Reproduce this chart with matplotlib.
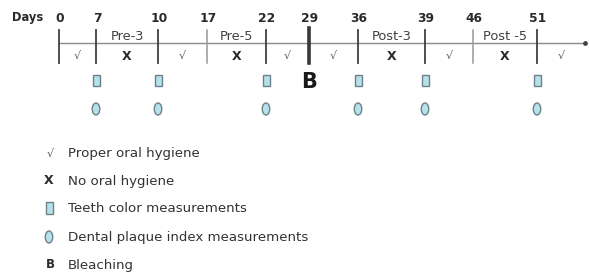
import matplotlib
matplotlib.use("Agg")
import matplotlib.pyplot as plt
from matplotlib.patches import Rectangle, Ellipse

plt.rcParams['font.family'] = ['DejaVu Sans']

# Data
days = [0, 7, 10, 17, 22, 29, 36, 39, 46, 51]
period_labels = ["Pre-3", "Pre-5", "Post-3", "Post -5"]
period_bounds = [(7, 10), (17, 22), (36, 39), (46, 51)]
segment_symbols = ["√", "X", "√", "X", "√", "√", "X", "√", "X", "√"]
measure_days = [7, 10, 22, 36, 39, 51]
bleach_day = 29
light_ticks = [17, 46]
legend_symbols = ["√", "X", "square", "ellipse", "B"]
legend_labels = ["Proper oral hygiene", "No oral hygiene",
                 "Teeth color measurements",
                 "Dental plaque index measurements", "Bleaching"]

# Layout (schematic pixel positions of each day tick)
day_x = [59, 96, 158, 207, 266, 309, 358, 425, 473, 537]

W, H = 589, 276
fig = plt.figure(figsize=(W / 100, H / 100), dpi=100)
ax = fig.add_axes([0, 0, 1, 1])
ax.set_xlim(0, W)
ax.set_ylim(H, 0)
ax.axis('off')

pos = dict(zip(days, day_x))
end_x = 585
fill = '#b4e2ea'
edge = '#6f8088'
txt = '#2a2a2a'
line_y, tick_top, tick_bot = 43, 30, 63

# axis line
ax.plot([pos[0], end_x], [line_y, line_y], color='#8c8c8c', lw=1.0)
ax.plot([end_x], [line_y], marker='o', ms=2.4, color='#404040')

ax.text(12, 18, "Days", fontsize=8.3, fontweight='bold', va='center', ha='left', color=txt)
for d in days:
    x = pos[d]
    ax.text(x + 1, 19, str(d), fontsize=8.8, fontweight='bold', va='center', ha='center', color=txt)
    if d == bleach_day:
        ax.plot([x, x], [tick_top - 2, tick_bot], color='#383838', lw=2.6)
    elif d in light_ticks:
        ax.plot([x, x], [tick_top, tick_bot], color='#999999', lw=1.1)
    else:
        ax.plot([x, x], [tick_top, tick_bot], color='#404040', lw=1.3)

for lab, (a, b) in zip(period_labels, period_bounds):
    ax.text((pos[a] + pos[b]) / 2, 37, lab, fontsize=9.3, va='center', ha='center', color='#404040')

seg_ends = day_x[1:] + [end_x]
for sym, xa, xb in zip(segment_symbols, day_x, seg_ends):
    xm = (xa + xb) / 2
    if sym == "X":
        ax.text(xm, 57, "X", fontsize=9, fontweight='bold', va='center', ha='center', color=txt)
    else:
        ax.text(xm, 56, "√", fontsize=8, va='center', ha='center', color='#606060')

sq_y, el_y = 80, 109
for d in measure_days:
    x = pos[d]
    ax.add_patch(Rectangle((x - 3.5, sq_y - 5.5), 7, 11, facecolor=fill, edgecolor=edge, lw=1.0))
    ax.add_patch(Ellipse((x, el_y), 7.5, 12, facecolor=fill, edgecolor=edge, lw=1.0))
ax.text(pos[bleach_day], 81.5, "B", fontsize=15, fontweight='bold', va='center', ha='center', color='#1a1a1a')

leg_y = [154, 181, 208, 237, 265]
sx, tx = 49, 68
for sym, label, y in zip(legend_symbols, legend_labels, leg_y):
    if sym == "square":
        ax.add_patch(Rectangle((sx - 3.5, y - 6), 7, 12, facecolor=fill, edgecolor=edge, lw=1.0))
    elif sym == "ellipse":
        ax.add_patch(Ellipse((sx, y), 7.5, 12, facecolor=fill, edgecolor=edge, lw=1.0))
    elif sym == "X":
        ax.text(sx, y, "X", fontsize=9, fontweight='bold', va='center', ha='center', color=txt)
    elif sym == "B":
        ax.text(sx + 1, y, "B", fontsize=8.5, fontweight='bold', va='center', ha='center', color=txt)
    else:
        ax.text(sx + 1, y, "√", fontsize=8, va='center', ha='center', color='#606060')
    ax.text(tx, y, label, fontsize=9.6, va='center', ha='left', color='#333333')

fig.savefig("out.png", dpi=100, facecolor='white')
